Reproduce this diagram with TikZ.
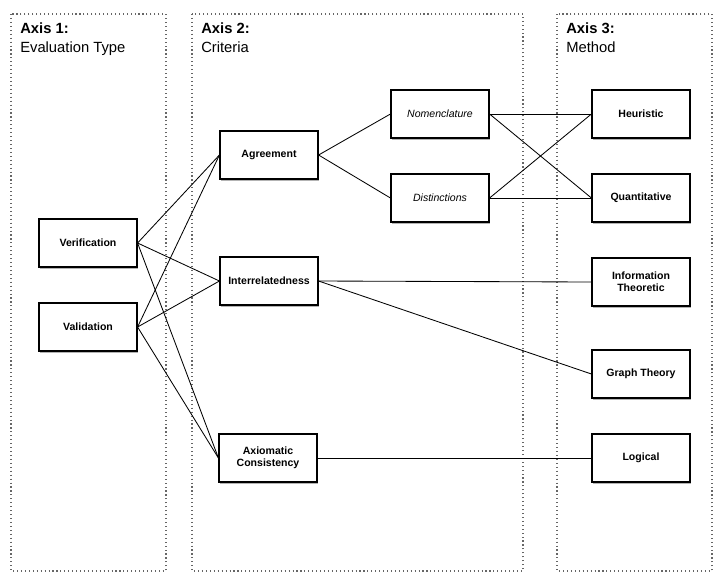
\documentclass[tikz,border=0pt]{standalone}
\usepackage{fontspec}
\setmainfont{Liberation Sans}
\usepackage{tikz}
\usetikzlibrary{shadows}

\begin{document}
\begin{tikzpicture}[x=0.025cm, y=-0.025cm,
        axisbox/.style={draw=black!60, dotted, line width=0.8pt},
        item/.style={draw, fill=white, line width=0.8pt, minimum width=2.45cm,
            minimum height=1.2cm, align=center, inner sep=1pt,
            font=\fontsize{7.5}{8.5}\selectfont\bfseries,
            drop shadow={shadow xshift=1pt, shadow yshift=-1.5pt, opacity=0.6}},
        subitem/.style={item, font=\fontsize{7.5}{8.5}\selectfont\itshape},
        link/.style={line width=0.6pt}]
        % Fix the page to the size of the reference
        \useasboundingbox (0, 0) rectangle (728, 587);

        % The three axes as dotted frames with their titles
        \foreach[count=\i] \left/\right/\title in {
            11/166/Evaluation Type,
            192/523/Criteria,
            557/712/Method}{
            \draw[axisbox] (\left, 14) rectangle (\right, 571);
            \node[anchor=base west, inner sep=0pt, align=left,
                font=\fontsize{10.5}{13.5}\selectfont] (title\i) at (\left + 9, 52)
                {\textbf{Axis \i:}\\\title};
        }

        % Axis 1: evaluation type
        \node[item] (verif) at (88, 243) {Verification};
        \node[item] (valid) at (88, 327) {Validation};

        % Axis 2: criteria
        \node[item] (agree) at (269, 155) {Agreement};
        \node[item] (interrel) at (269, 281) {Interrelatedness};
        \node[item] (axiom) at (268, 458) {Axiomatic\\Consistency};
        \node[subitem] (nomen) at (440, 114) {Nomenclature};
        \node[subitem] (distinct) at (440, 198) {Distinctions};

        % Axis 3: method
        \node[item] (heur) at (641, 114) {Heuristic};
        \node[item] (quant) at (641, 198) {Quantitative};
        \node[item] (infoth) at (641, 282) {Information\\Theoretic};
        \node[item] (graphth) at (641, 374) {Graph Theory};
        \node[item] (logical) at (641, 458) {Logical};

        % Connect the nodes
        \foreach \from/\to in {
            verif/agree, verif/interrel, verif/axiom,
            valid/agree, valid/interrel, valid/axiom,
            agree/nomen, agree/distinct,
            nomen/heur, nomen/quant,
            distinct/heur, distinct/quant,
            interrel/infoth, interrel/graphth,
            axiom/logical}{
            \draw[link] (\from.east) -- (\to.west);
        }
    \end{tikzpicture}
\end{document}
